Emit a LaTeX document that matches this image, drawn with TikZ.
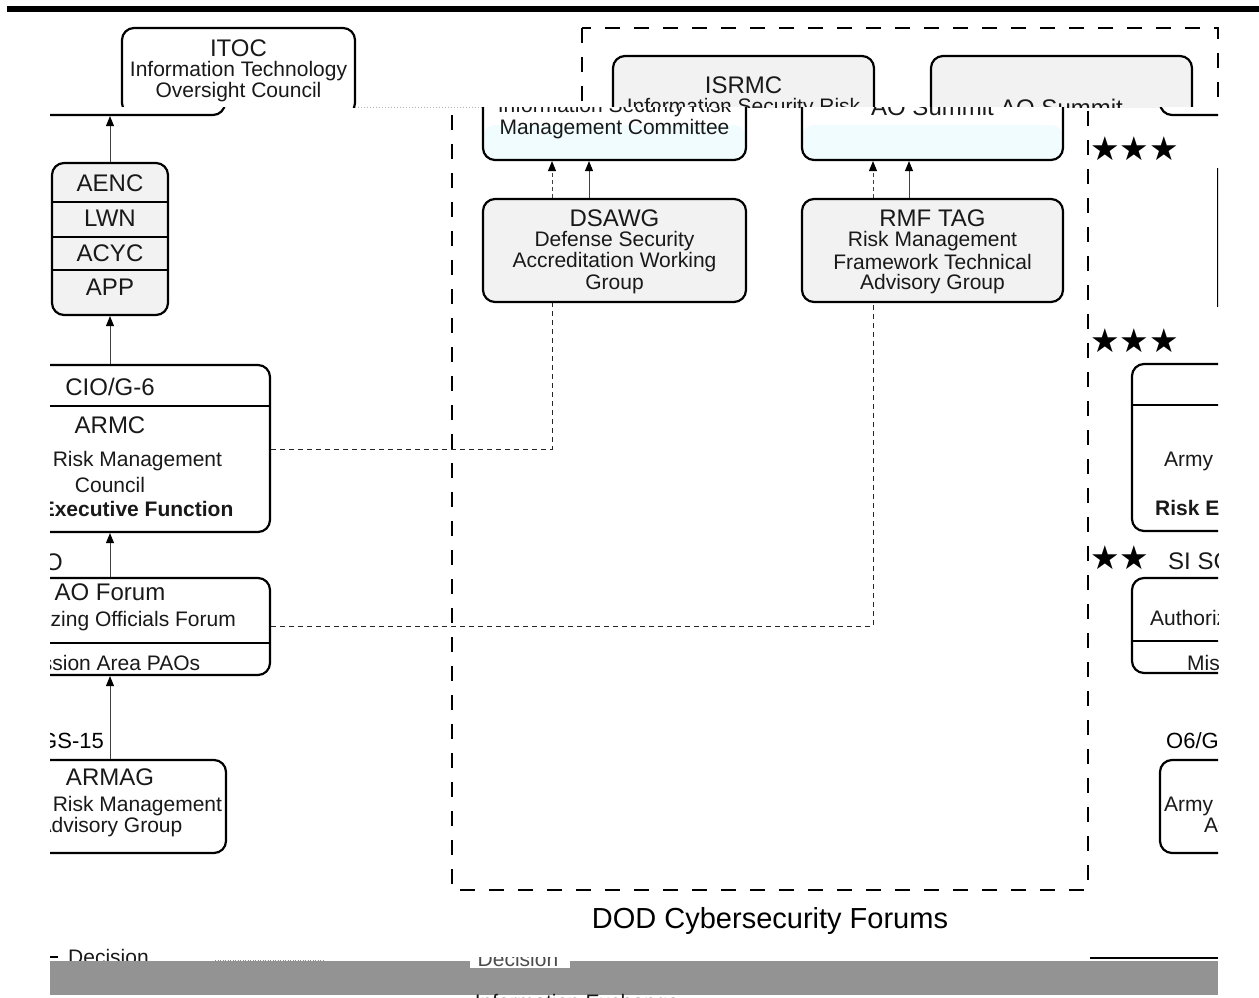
\documentclass[tikz,border=0pt]{standalone}
\usepackage{fontspec}
\setmainfont{Liberation Sans}
\newfontfamily\starfont{DejaVu Sans}
\usetikzlibrary{arrows.meta}
\definecolor{boxgray}{HTML}{F2F2F2}
\definecolor{boxcyan}{HTML}{F0FCFD}
\definecolor{bandgray}{HTML}{939393}
\begin{document}
\begin{tikzpicture}[x=1pt,y=-1pt,
 box/.style={draw=black, line width=2.2pt, rounded corners=12pt, inner sep=0pt, fill=boxgray},
 wbox/.style={box, fill=white},
 ttl/.style={font=\fontsize{24}{26}\selectfont, inner sep=0pt, text=black!90},
 txt/.style={font=\fontsize{21}{23}\selectfont, inner sep=0pt, text=black!90},
 btxt/.style={txt, font=\fontsize{21}{23}\selectfont\bfseries},
 arr/.style={draw=black!75, line width=1pt, -{Triangle[length=10pt,width=8pt,color=black]}},
 darr/.style={arr, dash pattern=on 4pt off 3pt},
 conn/.style={draw=black!85, line width=1pt, dash pattern=on 5pt off 4pt},
 forum/.style={draw=black, line width=2.6pt, dash pattern=on 15pt off 14pt},
 div/.style={draw=black, line width=2.2pt},
 stars/.style={font=\starfont\fontsize{33}{33}\selectfont, inner sep=0pt, anchor=west}]
\useasboundingbox (0,0) rectangle (1259,998);

% ---------- upper band ----------
\begin{scope}
\clip (0,0) rectangle (1259,107.5);
\fill[black] (7,6) rectangle (1259,12);
\node[wbox, minimum width=233pt, minimum height=87pt] (itocU) at (238.5,71.5) {};
\node[ttl] (itocUa) at (238.5,48) {ITOC};
\node[txt] (itocUb) at (238.5,71) {Information Technology};
\node[txt] (itocUc) at (238.5,92) {Oversight Council};
\draw[forum] (582,28) rectangle (1218,890);
\node[box, minimum width=261pt, minimum height=104pt] (isrmcU) at (743.5,108) {};
\node[ttl] (isrmcUa) at (743.5,85) {ISRMC};
\node[txt] (isrmcUb) at (743.5,108) {Information Security Risk};
\node[box, minimum width=261pt, minimum height=104pt] (aosU) at (1061.5,108) {};
\node[ttl] (aosUa) at (1061.5,108) {AO Summit};
\end{scope}

\draw[black!30, line width=1pt, dash pattern=on 1pt off 2pt] (355,107.5) -- (483,107.5);

% ---------- lower band ----------
\begin{scope}
\clip (50,107.5) rectangle (1218,998);
\node[wbox, minimum width=233pt, minimum height=87pt] (itocL) at (108.5,71.5) {};
\draw[forum] (452,28) rectangle (1088,890);

\node[wbox, minimum width=263pt, minimum height=104pt,
  path picture={\fill[boxcyan] ([yshift=-69pt]path picture bounding box.north west) rectangle (path picture bounding box.south east);}] (isrmcL) at (614.5,108) {};
\node[txt] (isrmcLb) at (614.5,107) {Information Security Risk};
\node[txt] (isrmcLc) at (614.5,129) {Management Committee};
\node[wbox, minimum width=261pt, minimum height=104pt,
  path picture={\fill[boxcyan] ([yshift=-69pt]path picture bounding box.north west) rectangle (path picture bounding box.south east);}] (aosL) at (932.5,108) {};
\node[ttl] (aosLa) at (932.5,107) {AO Summit};

\node[box, minimum width=263pt, minimum height=103pt] (dsawg) at (614.5,250.5) {};
\node[ttl] (dsawga) at (614.5,218) {DSAWG};
\node[txt] (dsawgb) at (614.5,241) {Defense Security};
\node[txt] (dsawgc) at (614.5,262) {Accreditation Working};
\node[txt] (dsawgd) at (614.5,284) {Group};
\node[box, minimum width=261pt, minimum height=103pt] (rmf) at (932.5,250.5) {};
\node[ttl] (rmfa) at (932.5,218) {RMF TAG};
\node[txt] (rmfb) at (932.5,241) {Risk Management};
\node[txt] (rmfc) at (932.5,262) {Framework Technical};
\node[txt] (rmfd) at (932.5,284) {Advisory Group};

\node[box, minimum width=116pt, minimum height=152pt] (aenc) at (110,239) {};
\draw[div] (aenc.west |- 0,202) -- (aenc.east |- 0,202);
\draw[div] (aenc.west |- 0,237) -- (aenc.east |- 0,237);
\draw[div] (aenc.west |- 0,270) -- (aenc.east |- 0,270);
\node[ttl] (aenca) at (110,183) {AENC};
\node[ttl] (aencb) at (110,218) {LWN};
\node[ttl] (aencc) at (110,253) {ACYC};
\node[ttl] (aencd) at (110,287) {APP};

\node[wbox, minimum width=320pt, minimum height=167pt] (cio) at (110,448.5) {};
\draw[div] (cio.west |- 0,406) -- (cio.east |- 0,406);
\node[ttl] (cioa) at (110,387) {CIO/G-6};
\node[ttl] (ciob) at (110,425) {ARMC};
\node[txt] (cioc) at (110,461) {Army Risk Management};
\node[txt] (ciod) at (110,485) {Council};
\node[btxt] (cioe) at (112,509) {Risk Executive Function};

\node[ttl, anchor=east] (scio) at (63,562) {SI SCIO};
\node[wbox, minimum width=320pt, minimum height=97pt] (pao) at (110,626.5) {};
\draw[div] (pao.west |- 0,643) -- (pao.east |- 0,643);
\node[ttl] (paoa) at (110,592) {AO Forum};
\node[txt] (paob) at (110,621) {Authorizing Officials Forum};
\node[txt] (paoc) at (110,663) {Mission Area PAOs};

\node[font=\fontsize{22}{24}\selectfont, inner sep=0pt, anchor=east] (gs) at (104,741) {O6/GS-15};
\node[wbox, minimum width=232pt, minimum height=93pt] (armag) at (110,806.5) {};
\node[ttl] (armaga) at (110,777) {ARMAG};
\node[txt] (armagb) at (110,806) {Army Risk Management};
\node[txt] (armagc) at (110,827) {Advisory Group};

% right column
\node[wbox, minimum width=240pt, minimum height=87pt] (rtop) at (1280,71.5) {};
\draw[black, line width=2.2pt] (1218,168) -- (1218,307);
\node[stars] (st1) at (1090,149) {★★★};
\node[stars] (st2) at (1090,341) {★★★};
\node[wbox, minimum width=288pt, minimum height=167pt] (rcio) at (1276,447.5) {};
\draw[div] (rcio.west |- 0,405) -- (rcio.east |- 0,405);
\node[txt, anchor=west] (rcioc) at (1164,461) {Army Risk Management};
\node[btxt, anchor=west] (rcioe) at (1155,508) {Risk Executive Function};
\node[stars] (st3) at (1090,558) {★★};
\node[ttl, anchor=west] (rscio) at (1168,561) {SI SCIO};
\node[wbox, minimum width=288pt, minimum height=95pt] (rpao) at (1276,625.5) {};
\draw[div] (rpao.west |- 0,641) -- (rpao.east |- 0,641);
\node[txt, anchor=west] (rpaob) at (1150,620) {Authorizing Officials Forum};
\node[txt, anchor=west] (rpaoc) at (1187,663) {Mission Area PAOs};
\node[font=\fontsize{22}{24}\selectfont, inner sep=0pt, anchor=west] (rgs) at (1166,741) {O6/GS-15};
\node[wbox, minimum width=232pt, minimum height=93pt] (rarmag) at (1276,806.5) {};
\node[txt, anchor=west] (rarmagb) at (1164,806) {Army Risk Management};
\node[txt, anchor=west] (rarmagc) at (1204,827) {Advisory Group};

% connectors
\draw[arr] (aenc.north) -- (aenc.north |- itocL.south);
\draw[arr] (cio.north) -- (aenc.south);
\draw[arr] (pao.north) -- (cio.south);
\draw[arr] (armag.north) -- (pao.south);
\draw[darr] ([xshift=-62.5pt]dsawg.north) -- ([xshift=-62.5pt]isrmcL.south);
\draw[arr] ([xshift=-25.5pt]dsawg.north) -- ([xshift=-25.5pt]isrmcL.south);
\draw[darr] ([xshift=-59.5pt]rmf.north) -- ([xshift=-59.5pt]aosL.south);
\draw[arr] ([xshift=-23.5pt]rmf.north) -- ([xshift=-23.5pt]aosL.south);
\draw[conn] (cio.east |- 0,449) -| ([xshift=-62.5pt]dsawg.south);
\draw[conn] (pao.east |- 0,626) -| ([xshift=-59.5pt]rmf.south);

\node[font=\fontsize{29}{31}\selectfont, inner sep=0pt] (dodlbl) at (770,921) {DOD Cybersecurity Forums};

% legend fragments
\draw[black, line width=1.5pt] (50,957) -- (58,957);
\node[txt, anchor=west] (leg1) at (68,957) {Decision};
\draw[black!45, line width=1pt, dash pattern=on 1pt off 1.5pt] (215,960) -- (325,960);
\fill[bandgray] (50,961) rectangle (1218,995);
\begin{scope}
\clip (470,957) rectangle (570,968);
\fill[white] (470,957) rectangle (570,968);
\node[txt, text=black!70] (leg2) at (518,959) {Decision};
\end{scope}
\node[txt] (leg3) at (577,1004) {Information Exchange};
\draw[black, line width=2pt] (1090,958) -- (1218,958);
\end{scope}
\end{tikzpicture}
\end{document}
